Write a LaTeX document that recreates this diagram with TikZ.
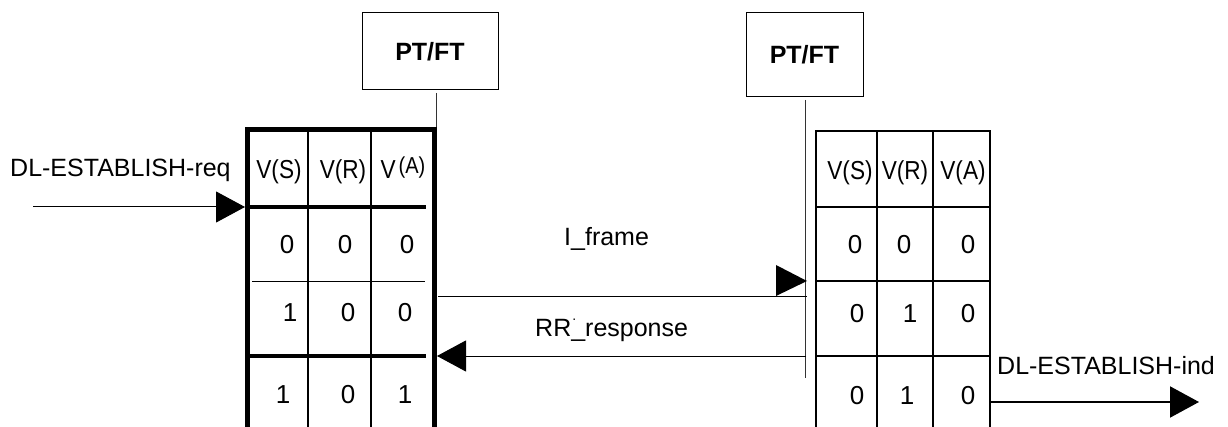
\documentclass[tikz,border=0pt]{standalone}
\usepackage{fontspec}
\setmainfont{Liberation Sans}
\newfontfamily\hdrfont[FakeStretch=0.87]{Liberation Sans}
\usetikzlibrary{arrows.meta}
\begin{document}
\begin{tikzpicture}[x=1pt,y=-1pt,
  txt/.style={font=\fontsize{26}{30}\selectfont, inner sep=0pt, anchor=base},
  lbl/.style={font=\fontsize{25}{30}\selectfont, inner sep=0pt, anchor=base west},
  hdr/.style={font=\hdrfont\fontsize{26}{30}\selectfont, inner sep=0pt, anchor=base},
  ptbox/.style={draw, line width=1pt, inner sep=0pt, font=\bfseries\fontsize{25}{30}\selectfont},
  lifeline/.style={line width=1pt, draw=black!80},
  msg/.style={line width=1pt, -{Triangle[length=29pt,width=31pt]}},
  thickb/.style={line width=5pt, line join=miter},
  thinb/.style={line width=2pt},
]
\useasboundingbox (0,0) rectangle (1228,427);

% PT/FT boxes
\node[ptbox, minimum width=136pt, minimum height=77pt] (ptL) at (430,51.5) {PT/FT};
\node[ptbox, minimum width=117pt, minimum height=84pt] (ptR) at (804.5,55) {PT/FT};

% table corner coordinates
\coordinate (LTnw) at (247,130);
\coordinate (LTne) at (434,130);
\coordinate (RTnw) at (816,131);
\coordinate (RTne) at (990,131);

% lifelines
\coordinate (llL) at (436,93);
\coordinate (llR) at (805,100);
\coordinate (llRend) at (805,378);
\draw[lifeline] (llL) -- (llL |- LTne);
\draw[lifeline] (llR) -- (llRend);

% left table
\draw[thickb] (247,427) -- (LTnw) -- (LTne) -- (434,427);
\draw[thinb] (308,130) -- (308,427);
\draw[thinb] (371,130) -- (371,427);
\draw[line width=3.5pt] (249,207) -- (426,207);
\draw[line width=1pt] (252,282) -- (425,282);
\draw[line width=3.5pt] (249,356) -- (426,356);

\node[hdr] (lh1) at (279,179) {V(S)};
\node[hdr] (lh2) at (343,179) {V(R)};
\node[hdr] (lh3) at (403,179) {V\hspace{3pt}\raisebox{5pt}{\fontsize{23}{26}\selectfont(A)}};
\node[txt] (l11) at (287,254) {0};
\node[txt] (l12) at (345,254) {0};
\node[txt] (l13) at (407,254) {0};
\node[txt] (l21) at (290,322) {1};
\node[txt] (l22) at (348,322) {0};
\node[txt] (l23) at (405,322) {0};
\node[txt] (l31) at (283,403) {1};
\node[txt] (l32) at (348,403) {0};
\node[txt] (l33) at (405,403) {1};

% right table
\draw[thinb, line join=miter] (816,427) -- (RTnw) -- (RTne) -- (990,427);
\draw[thinb] (877,131) -- (877,427);
\draw[thinb] (933,131) -- (933,427);
\draw[thinb] (816,207) -- (990,207);
\draw[thinb] (816,281) -- (990,281);
\draw[thinb] (816,356) -- (990,356);

\node[hdr] (rh1) at (850,180) {V(S)};
\node[hdr] (rh2) at (905,180) {V(R)};
\node[hdr] (rh3) at (963,180) {V(A)};
\node[txt] (r11) at (855,254) {0};
\node[txt] (r12) at (904,254) {0};
\node[txt] (r13) at (968,254) {0};
\node[txt] (r21) at (857,323) {0};
\node[txt] (r22) at (910,323) {1};
\node[txt] (r23) at (968,323) {0};
\node[txt] (r31) at (857,404) {0};
\node[txt] (r32) at (907,404) {1};
\node[txt] (r33) at (968,404) {0};

% labels
\node[lbl] (req) at (10,177) {DL-ESTABLISH-req};
\node[lbl] (ifr) at (564,246) {I\_frame};
\node[lbl] (rr) at (535,337) {RR\makebox[0pt][l]{\kern1pt\raisebox{17pt}{\fontsize{14}{14}\selectfont.}}\_response};
\node[lbl] (ind) at (997,374) {DL-ESTABLISH-ind};

% messages
\coordinate (reqS) at (33,207);
\coordinate (reqE) at (245,207);
\draw[msg] (reqS) -- (reqE);

\coordinate (ifS) at (438,297);
\coordinate (ifE) at (807,297);
\draw[line width=1pt] (ifS) -- (ifE);
\fill (776,265) -- (807,281) -- (776,296) -- cycle;

\coordinate (rrS) at (806,356);
\coordinate (rrE) at (437,356);
\draw[msg] (rrS) -- (rrE);

\coordinate (indS) at (990,402);
\coordinate (indE) at (1199,402);
\draw[msg, line width=2pt] (indS) -- (indE);
\end{tikzpicture}
\end{document}
